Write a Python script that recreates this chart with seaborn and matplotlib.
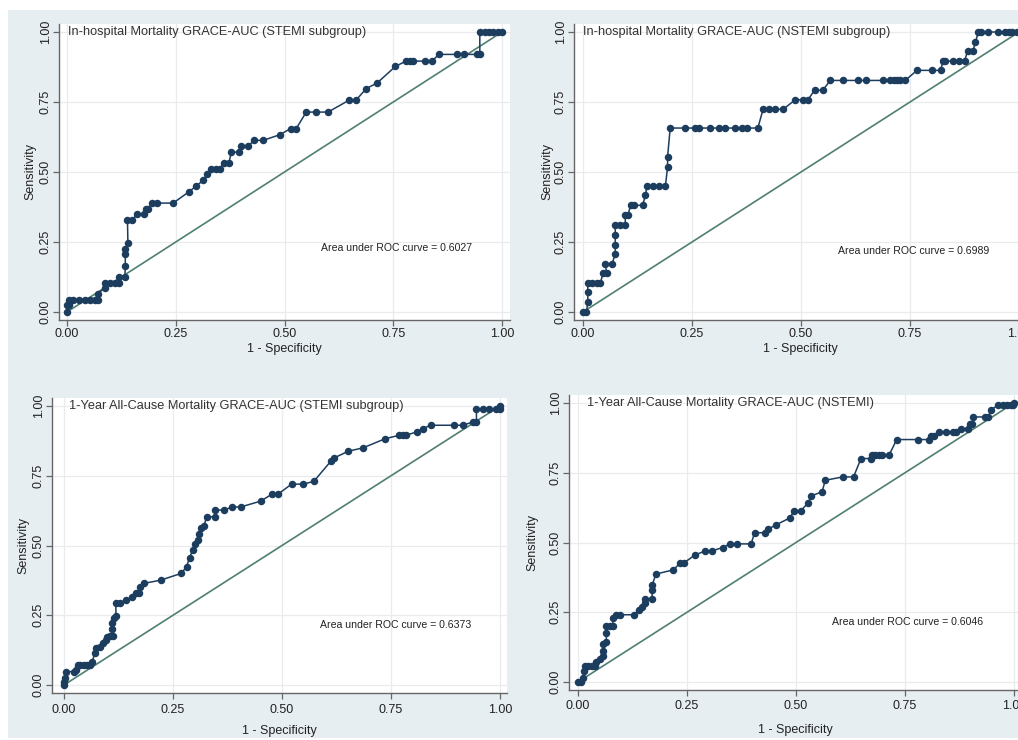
import numpy as np
import pandas as pd
import matplotlib
matplotlib.use("Agg")
import matplotlib.pyplot as plt
from matplotlib.patches import Rectangle
import seaborn as sns

# ---------------- data ----------------
titles = [
    "In-hospital Mortality GRACE-AUC (STEMI subgroup)",
    "In-hospital Mortality GRACE-AUC (NSTEMI subgroup)",
    "1-Year All-Cause Mortality GRACE-AUC (STEMI subgroup)",
    "1-Year All-Cause Mortality GRACE-AUC (NSTEMI)",
]
auc_labels = [
    "Area under ROC curve = 0.6027",
    "Area under ROC curve = 0.6989",
    "Area under ROC curve = 0.6373",
    "Area under ROC curve = 0.6046",
]
tick_values = [0.0, 0.25, 0.5, 0.75, 1.0]
tick_labels = ["0.00", "0.25", "0.50", "0.75", "1.00"]
x_label = "1 - Specificity"
y_label = "Sensitivity"

# panel 1: in-hospital, STEMI
fpr_1 = [0, 0, 0.004, 0.004, 0.014, 0.027, 0.041, 0.052, 0.064, 0.071, 0.071, 0.087, 0.087,
         0.098, 0.110, 0.120, 0.120, 0.133, 0.134, 0.134, 0.134, 0.140, 0.139, 0.150, 0.161,
         0.176, 0.182, 0.186, 0.196, 0.208, 0.244, 0.280, 0.297, 0.313, 0.322, 0.332, 0.343,
         0.352, 0.360, 0.372, 0.378, 0.395, 0.401, 0.416, 0.431, 0.451, 0.489, 0.514, 0.527,
         0.550, 0.573, 0.600, 0.648, 0.664, 0.688, 0.713, 0.755, 0.779, 0.789, 0.795, 0.822,
         0.839, 0.855, 0.897, 0.913, 0.943, 0.949, 0.949, 0.960, 0.970, 0.980, 0.990, 1.0]
tpr_1 = [0, 0.024, 0.024, 0.044, 0.044, 0.044, 0.044, 0.044, 0.044, 0.044, 0.065, 0.087, 0.104,
         0.104, 0.104, 0.104, 0.125, 0.125, 0.164, 0.208, 0.226, 0.246, 0.327, 0.327, 0.351,
         0.351, 0.369, 0.369, 0.389, 0.389, 0.389, 0.429, 0.450, 0.470, 0.492, 0.512, 0.512,
         0.512, 0.532, 0.532, 0.571, 0.571, 0.593, 0.593, 0.613, 0.613, 0.633, 0.655, 0.655,
         0.714, 0.714, 0.714, 0.756, 0.756, 0.798, 0.818, 0.877, 0.896, 0.896, 0.896, 0.896,
         0.896, 0.920, 0.920, 0.920, 0.920, 0.920, 1.0, 1.0, 1.0, 1.0, 1.0, 1.0]

# panel 2: in-hospital, NSTEMI
fpr_2 = [0, 0.008, 0.011, 0.011, 0.011, 0.021, 0.031, 0.040, 0.046, 0.054, 0.051, 0.067,
         0.074, 0.074, 0.074, 0.074, 0.086, 0.097, 0.097, 0.103, 0.109, 0.118, 0.137, 0.143,
         0.147, 0.161, 0.174, 0.189, 0.194, 0.194, 0.200, 0.235, 0.258, 0.265, 0.292, 0.313,
         0.326, 0.349, 0.365, 0.376, 0.401, 0.413, 0.426, 0.441, 0.459, 0.487, 0.505, 0.516,
         0.531, 0.550, 0.567, 0.596, 0.630, 0.648, 0.688, 0.705, 0.713, 0.720, 0.728, 0.739,
         0.766, 0.800, 0.820, 0.826, 0.831, 0.849, 0.862, 0.875, 0.882, 0.894, 0.900, 0.907,
         0.913, 0.930, 0.951, 0.969, 0.976, 0.985, 0.995, 1.0]
tpr_2 = [0, 0, 0.036, 0.071, 0.104, 0.104, 0.104, 0.104, 0.139, 0.139, 0.173, 0.173,
         0.208, 0.240, 0.274, 0.312, 0.312, 0.312, 0.345, 0.345, 0.381, 0.381, 0.381, 0.417,
         0.450, 0.450, 0.450, 0.450, 0.518, 0.554, 0.657, 0.657, 0.657, 0.657, 0.657, 0.657,
         0.657, 0.657, 0.657, 0.657, 0.657, 0.724, 0.724, 0.724, 0.724, 0.758, 0.758, 0.758,
         0.792, 0.792, 0.827, 0.827, 0.827, 0.827, 0.827, 0.827, 0.827, 0.827, 0.827, 0.827,
         0.863, 0.863, 0.863, 0.896, 0.896, 0.896, 0.896, 0.896, 0.931, 0.931, 0.964, 1.0,
         1.0, 1.0, 1.0, 1.0, 1.0, 1.0, 1.0, 1.0]

# panel 3: 1-year, STEMI
fpr_3 = [0, 0, 0.003, 0.005, 0.022, 0.027, 0.032, 0.036, 0.045, 0.053, 0.060, 0.065, 0.070,
         0.073, 0.082, 0.090, 0.096, 0.099, 0.105, 0.112, 0.111, 0.111, 0.114, 0.119, 0.119,
         0.129, 0.143, 0.157, 0.164, 0.172, 0.175, 0.183, 0.222, 0.269, 0.281, 0.288, 0.295,
         0.300, 0.308, 0.309, 0.315, 0.321, 0.327, 0.347, 0.347, 0.366, 0.386, 0.405, 0.451,
         0.476, 0.490, 0.522, 0.549, 0.573, 0.612, 0.620, 0.652, 0.686, 0.737, 0.769, 0.778,
         0.784, 0.809, 0.823, 0.841, 0.894, 0.914, 0.939, 0.946, 0.946, 0.960, 0.975, 0.990,
         1.0, 1.0]
tpr_3 = [0, 0.012, 0.024, 0.048, 0.048, 0.054, 0.072, 0.072, 0.072, 0.072, 0.072, 0.084, 0.113,
         0.131, 0.137, 0.152, 0.161, 0.173, 0.175, 0.175, 0.199, 0.221, 0.239, 0.247, 0.295,
         0.295, 0.304, 0.316, 0.331, 0.331, 0.352, 0.364, 0.376, 0.400, 0.424, 0.456, 0.483,
         0.507, 0.519, 0.543, 0.561, 0.569, 0.603, 0.603, 0.627, 0.627, 0.638, 0.638, 0.659,
         0.683, 0.683, 0.720, 0.720, 0.730, 0.802, 0.814, 0.838, 0.850, 0.883, 0.895, 0.895,
         0.895, 0.907, 0.919, 0.931, 0.931, 0.931, 0.943, 0.943, 0.990, 0.990, 0.990, 0.990,
         0.990, 1.0]

# panel 4: 1-year, NSTEMI
fpr_4 = [0, 0.007, 0.011, 0.013, 0.015, 0.022, 0.032, 0.040, 0.042, 0.050, 0.057, 0.057,
         0.057, 0.065, 0.065, 0.065, 0.073, 0.080, 0.080, 0.088, 0.096, 0.129, 0.139, 0.147,
         0.153, 0.154, 0.170, 0.170, 0.170, 0.179, 0.219, 0.235, 0.244, 0.268, 0.292, 0.307,
         0.332, 0.348, 0.365, 0.397, 0.405, 0.428, 0.436, 0.454, 0.487, 0.495, 0.511, 0.528,
         0.535, 0.560, 0.567, 0.607, 0.632, 0.649, 0.672, 0.674, 0.682, 0.690, 0.697, 0.714,
         0.731, 0.779, 0.804, 0.809, 0.817, 0.827, 0.845, 0.860, 0.868, 0.878, 0.894, 0.898,
         0.904, 0.907, 0.934, 0.941, 0.948, 0.963, 0.975, 0.985, 0.992, 0.998, 1.0]
tpr_4 = [0, 0, 0.014, 0.038, 0.058, 0.058, 0.058, 0.058, 0.070, 0.082, 0.092, 0.110,
         0.137, 0.145, 0.175, 0.199, 0.199, 0.199, 0.229, 0.241, 0.241, 0.241, 0.259, 0.268,
         0.283, 0.297, 0.297, 0.330, 0.348, 0.387, 0.402, 0.428, 0.428, 0.455, 0.470, 0.470,
         0.482, 0.495, 0.495, 0.495, 0.535, 0.535, 0.548, 0.563, 0.589, 0.614, 0.614, 0.642,
         0.667, 0.682, 0.723, 0.735, 0.735, 0.801, 0.801, 0.815, 0.815, 0.815, 0.815, 0.815,
         0.869, 0.869, 0.869, 0.881, 0.881, 0.896, 0.896, 0.896, 0.896, 0.908, 0.908, 0.924,
         0.924, 0.950, 0.950, 0.950, 0.976, 0.992, 0.992, 0.992, 0.992, 0.992, 1.0]

panels = [(fpr_1, tpr_1), (fpr_2, tpr_2), (fpr_3, tpr_3), (fpr_4, tpr_4)]

# ---------------- style ----------------
sns.set_theme(style="white")
plt.rcParams["font.family"] = ["Liberation Sans", "DejaVu Sans"]

W, H = 1018, 740
fig = plt.figure(figsize=(W / 100, H / 100), dpi=100)
fig.patch.set_facecolor("white")
bg = "#e7eef2"
fig.patches.append(Rectangle((8 / W, 2 / H), 1 - 8 / W, 1 - 12 / H,
                             transform=fig.transFigure, facecolor=bg,
                             edgecolor="none", zorder=-10))

# (left_px, top_px, right_px, bottom_px, x0_px, x1_px, y1_px, y0_px)
layout = [
    (59, 24, 510, 320, 67, 502, 32, 312),
    (574, 24, 1027, 320, 583, 1019, 32, 312),
    (52, 398, 507, 693, 64, 500, 406, 685),
    (569, 395, 1022, 690, 578, 1014, 403, 682),
]
auc_pos = [(0.584, 0.229), (0.585, 0.218), (0.587, 0.215), (0.583, 0.215)]
title_x = [0.003, 0.0, 0.012, 0.02]
# per-panel paddings (points): x tick pad, y tick pad, x label pad, y label pad
x_tick_pad = [1.5, 1.5, 3.5, 2.5]
y_tick_pad = [0.8, 0.8, 0.8, 0.8]
x_label_pad = [2.0, 2.0, 6.5, 8.5]
y_label_pad = [2.5, 1.0, 2.0, 8.0]

curve_col = "#1c3d5e"
diag_col = "#4f7f70"
axis_col = "#666666"

for i, (fpr, tpr) in enumerate(panels):
    l, t, r, b, x0, x1, y1, y0 = layout[i]
    ax = fig.add_axes([l / W, (H - b) / H, (r - l) / W, (b - t) / H])
    ax.set_facecolor("white")
    xu = x1 - x0
    yu = y0 - y1
    ax.set_xlim(-(x0 - l) / xu, 1 + (r - x1) / xu)
    ax.set_ylim(-(b - y0) / yu, 1 + (y1 - t) / yu)

    df = pd.DataFrame({"fpr": fpr, "tpr": tpr})
    diag = pd.DataFrame({"x": [0.0, 1.0], "y": [0.0, 1.0]})
    sns.lineplot(data=diag, x="x", y="y", ax=ax, color=diag_col, lw=1.2,
                 sort=False, estimator=None, zorder=2)
    sns.lineplot(data=df, x="fpr", y="tpr", ax=ax, color=curve_col, lw=1.1,
                 sort=False, estimator=None, marker="o", markersize=5.4,
                 markeredgewidth=0, zorder=3)

    ax.set_xticks(tick_values)
    ax.set_xticklabels(tick_labels)
    ax.set_yticks(tick_values)
    ax.set_yticklabels(tick_labels, rotation=90, va="center")
    ax.grid(True, color="#e9ecee", lw=0.9)
    ax.set_axisbelow(True)
    for s in ["top", "right"]:
        ax.spines[s].set_visible(False)
    for s in ["left", "bottom"]:
        ax.spines[s].set_color(axis_col)
        ax.spines[s].set_linewidth(1.0)
    ax.tick_params(axis="both", which="major", length=4.5, width=0.9,
                   color=axis_col, labelsize=9, labelcolor="#222222",
                   direction="out", bottom=True, left=True)
    ax.tick_params(axis="x", pad=x_tick_pad[i])
    ax.tick_params(axis="y", pad=y_tick_pad[i])
    ax.set_xlabel(x_label, fontsize=9, color="#222222", labelpad=x_label_pad[i])
    ax.set_ylabel(y_label, fontsize=9, color="#222222", labelpad=y_label_pad[i])

    ax.text(title_x[i], 1.0, titles[i], fontsize=9.2, color="#333333",
            ha="left", va="center", zorder=5)
    ax.text(auc_pos[i][0], auc_pos[i][1], auc_labels[i], fontsize=7.6,
            color="#222222", ha="left", va="center", zorder=5)

fig.savefig("out.png", dpi=100, facecolor=fig.get_facecolor())
